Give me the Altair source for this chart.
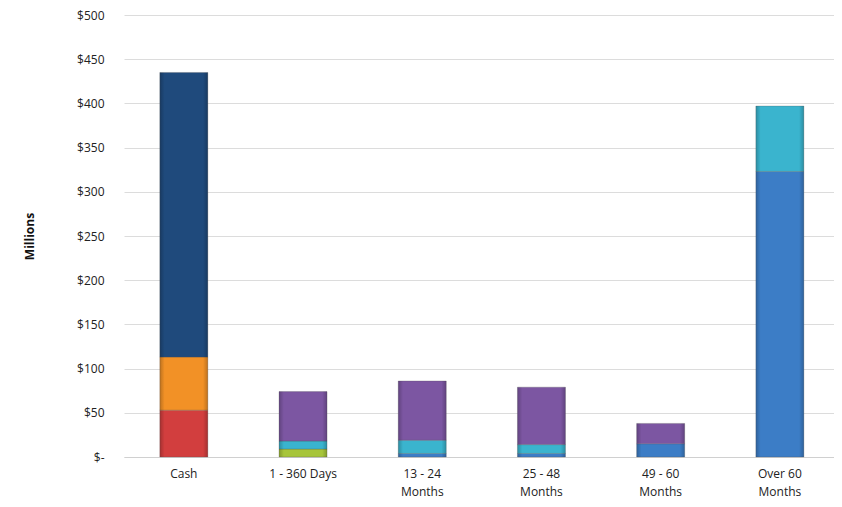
import altair as alt
import pandas as pd

categories = ["Cash", "1 - 360 Days", "13 - 24 Months", "25 - 48 Months", "49 - 60 Months", "Over 60 Months"]
series_names = ["Red", "Orange", "Navy", "Green", "Blue", "Cyan", "Purple"]
series_colors = ["#D23E3E", "#F29126", "#1F4A7C", "#A7C53A", "#3C7DC6", "#3AB4CE", "#7C56A2"]

red = [53, 0, 0, 0, 0, 0]
orange = [60, 0, 0, 0, 0, 0]
navy = [322, 0, 0, 0, 0, 0]
green = [0, 9, 0, 0, 0, 0]
blue = [0, 0, 4, 4, 15, 323]
cyan = [0, 9, 15, 10, 0, 74]
purple = [0, 56, 67, 65, 23, 0]

y_ticks = [0, 50, 100, 150, 200, 250, 300, 350, 400, 450, 500]

rows = []
for si, (name, vals) in enumerate(zip(series_names, [red, orange, navy, green, blue, cyan, purple])):
    for c, v in zip(categories, vals):
        if v > 0:
            rows.append({"category": c, "series": name, "order": si, "value": v})
df = pd.DataFrame(rows)

x_enc = alt.X("category:N", sort=categories, title=None,
              scale=alt.Scale(paddingInner=0.6, paddingOuter=0.278, align=0.543),
              axis=alt.Axis(labelAngle=0, labelFont="Open Sans", labelFontSize=12,
                            labelColor="#222222", labelPadding=11, labelLineHeight=18,
                            ticks=False, domainColor="#d0d0d0", grid=False,
                            labelBaseline="top",
                            labelExpr="indexof(datum.label, ' Months') > 0 ? [replace(datum.label, ' Months', ''), 'Months'] : datum.label"))
y_enc = alt.Y("value:Q", stack="zero", title="Millions",
              scale=alt.Scale(domain=[0, 500], nice=False),
              axis=alt.Axis(values=y_ticks, labelFont="Open Sans", labelFontSize=12,
                            labelColor="#222222", labelPadding=20, ticks=False,
                            domain=False, gridColor="#dcdcdc",
                            titleFont="Open Sans", titleFontSize=12, titleFontWeight="bold",
                            titleColor="#111111", titlePadding=40,
                            labelExpr="datum.value == 0 ? '$-' : '$' + datum.value"))

base = alt.Chart(df).encode(
    x=x_enc,
    y=y_enc,
    order=alt.Order("order:Q"),
)

bars = base.mark_bar(size=48, stroke="#555555", strokeOpacity=0.35, strokeWidth=0.8).encode(
    color=alt.Color("series:N", scale=alt.Scale(domain=series_names, range=series_colors), legend=None)
)

shade = base.mark_bar(size=48, color=alt.Gradient(
    gradient="linear", x1=0, x2=1, y1=0, y2=0,
    stops=[alt.GradientStop(offset=0, color="rgba(0,0,0,0.22)"),
           alt.GradientStop(offset=0.1, color="rgba(0,0,0,0.0)"),
           alt.GradientStop(offset=0.9, color="rgba(0,0,0,0.0)"),
           alt.GradientStop(offset=1, color="rgba(0,0,0,0.22)")]))

chart = alt.layer(bars, shade).properties(
    width=710, height=442,
    autosize="none",
    padding={"left": 116, "top": 7, "right": 0, "bottom": 42},
).configure_view(stroke=None)

chart.save("out.html", embed_options={"renderer": "svg", "actions": False})
